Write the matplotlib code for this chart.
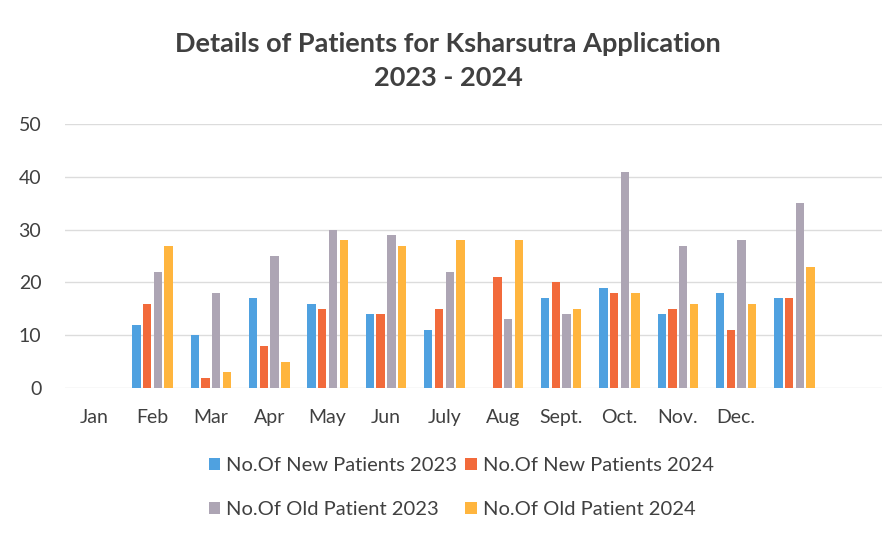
import matplotlib.pyplot as plt
import numpy as np

plt.rcParams['font.family'] = ['Lato', 'DejaVu Sans']

# 13 category slots (first one empty, last one unlabeled), as in the source sheet
months = ['Jan', 'Feb', 'Mar', 'Apr', 'May', 'Jun', 'July', 'Aug', 'Sept.', 'Oct.', 'Nov.', 'Dec.', '']
new_2023 = [0, 12, 10, 17, 16, 14, 11, 0, 17, 19, 14, 18, 17]
new_2024 = [0, 16, 2, 8, 15, 14, 15, 21, 20, 18, 15, 11, 17]
old_2023 = [0, 22, 18, 25, 30, 29, 22, 13, 14, 41, 27, 28, 35]
old_2024 = [0, 27, 3, 5, 28, 27, 28, 28, 15, 18, 16, 16, 23]

series = [
    ('No.Of New Patients 2023', new_2023, '#4FA1E0'),
    ('No.Of New Patients 2024', new_2024, '#F26A3B'),
    ('No.Of Old Patient 2023', old_2023, '#ADA5B4'),
    ('No.Of Old Patient 2024', old_2024, '#FFB53E'),
]

fig = plt.figure(figsize=(8.96, 5.42), dpi=100)
ax = fig.add_axes([0.0725, 0.284, 0.912, 0.487])

x = np.arange(len(months))
step = 0.184
width = 0.143
bars = []
for i, (name, vals, col) in enumerate(series):
    b = ax.bar(x + (i - 1.5) * step, vals, width=width, color=col, label=name, zorder=3)
    bars.append(b)

ax.set_xlim(-0.5, 13.5)
ax.set_ylim(0, 50)
ax.set_yticks(range(0, 51, 10))
ax.set_xticks(x[:12])
ax.set_xticklabels(months[:12])
ax.tick_params(axis='both', length=0, labelsize=14, colors='#404040')
ax.tick_params(axis='x', pad=15)
ax.tick_params(axis='y', pad=17)
ax.grid(axis='y', color='#DCDCDC', linewidth=1, zorder=0)
for s in ax.spines.values():
    s.set_visible(False)

fig.text(0.5, 0.918, 'Details of Patients for Ksharsutra Application',
         ha='center', va='center', fontsize=19.5, fontweight='bold', color='#404040')
fig.text(0.5, 0.856, '2023 - 2024',
         ha='center', va='center', fontsize=19.5, fontweight='bold', color='#404040')

order = [0, 2, 1, 3]
fig.legend([bars[i] for i in order], [series[i][0] for i in order],
           loc='center', bbox_to_anchor=(0.515, 0.10), ncol=2, frameon=False,
           fontsize=14.5, labelcolor='#404040', handlelength=0.55, handleheight=0.55,
           handletextpad=0.3, columnspacing=0.4, labelspacing=1.35)

fig.savefig('out.png', dpi=100, facecolor='white')
